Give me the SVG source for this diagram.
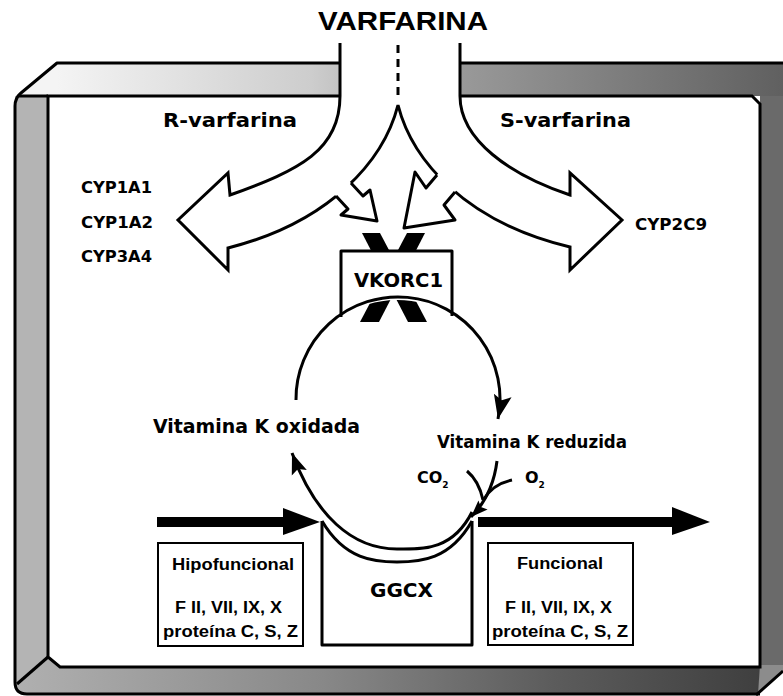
<svg xmlns="http://www.w3.org/2000/svg" width="783" height="696" viewBox="0 0 783 696">
<style>
.ln{fill:none;stroke:#000;stroke-width:3;stroke-linejoin:round}
.wf{fill:#fff;stroke:#000;stroke-width:3;stroke-linejoin:miter}
.lb{font-family:"DejaVu Sans","Liberation Sans",sans-serif;font-weight:bold;fill:#000}
.bx{font-family:"Liberation Sans","DejaVu Sans",sans-serif;font-weight:bold;fill:#000}
</style>
<defs>
<linearGradient id="gTop" gradientUnits="userSpaceOnUse" x1="57" y1="0" x2="783" y2="0">
<stop offset="0" stop-color="#f4f4f4"/><stop offset="0.35" stop-color="#cdcdcd"/><stop offset="0.55" stop-color="#9a9a9a"/><stop offset="0.8" stop-color="#7a7a7a"/><stop offset="1" stop-color="#606060"/>
</linearGradient>
<linearGradient id="gBot" gradientUnits="userSpaceOnUse" x1="15" y1="0" x2="783" y2="0">
<stop offset="0" stop-color="#b0b0b0"/><stop offset="0.4" stop-color="#888"/><stop offset="0.7" stop-color="#5c5c5c"/><stop offset="1" stop-color="#3c3c3c"/>
</linearGradient>
<marker id="ahL" markerUnits="userSpaceOnUse" markerWidth="26" markerHeight="20" viewBox="0 0 26 20" refX="24" refY="10" orient="auto"><path d="M0,1 L24,10 L0,19 L5,10 Z" fill="#000"/></marker>
<marker id="ahM" markerUnits="userSpaceOnUse" markerWidth="22" markerHeight="18" viewBox="0 0 22 18" refX="21" refY="9" orient="auto"><path d="M0,1 L21,9 L0,17 L4,9 Z" fill="#000"/></marker>
<marker id="ahS" markerUnits="userSpaceOnUse" markerWidth="18" markerHeight="14" viewBox="0 0 18 14" refX="17" refY="7" orient="auto"><path d="M0,0.5 L17,7 L0,13.5 L3,7 Z" fill="#000"/></marker>
</defs>

<g id="frame">
<polygon points="17,96 57,63 783,63 783,96" fill="url(#gTop)"/>
<polygon points="15,96 48,96 48,657 17,684 15,684" fill="#b4b4b4"/>
<path d="M15,684 L48,657 L60,667 H760 V694 H27 Q15,694 15,684 Z" fill="url(#gBot)"/>
<rect x="760" y="96" width="23" height="571" fill="#6a6a6a"/>
<polygon points="760,665 783,665 783,671 758,694" fill="#8c8c8c"/>
<path d="M48,96 H752 L760,104 V667 H60 L48,657 Z" class="wf"/>
<path d="M760,694 H27 Q15,694 15,682 V106 Q15,98 21,93 L57,63 H783" class="ln"/>
<path d="M19,96 H48" class="ln"/>
<path d="M17,684 L48,657" class="ln"/>
<path d="M756,695 L783,671" class="ln"/>
</g>

<g id="varfarina">
<path d="M340,43 V96 C340,150 300,170 230,195 L228,173 L178,220 L228,270 L228,248 C331,222 384,160 398,105 C412,160 465,222 570,247 L570,270 L622,220 L570,173 L570,195 C510,175 460,140 460,96 V43" class="wf"/>
<path d="M398,45 V99" fill="none" stroke="#000" stroke-width="3" stroke-dasharray="8,6"/>
<text x="318" y="30" class="bx" font-size="26" textLength="170" lengthAdjust="spacingAndGlyphs">VARFARINA</text>
<text x="163" y="127" class="lb" font-size="20" textLength="134" lengthAdjust="spacingAndGlyphs">R-varfarina</text>
<text x="500" y="127" class="lb" font-size="20" textLength="131" lengthAdjust="spacingAndGlyphs">S-varfarina</text>
</g>

<g id="arrow-r-vkorc1">
<polygon points="347,179 351,183 363,196 370,190 377,221 341,215 348,209 336,196 332,192" fill="#fff"/>
<path d="M351,183 L363,196 L370,190 L377,221 L341,215 L348,209 L336,196" class="ln"/>
</g>
<g id="arrow-s-vkorc1">
<polygon points="441,170 437,175 426,188 415,172 404,228 455,220 444,205 455,192 459,187" fill="#fff"/>
<path d="M437,175 L426,188 L415,172 L404,228 L455,220 L444,205 L455,192" class="ln"/>
</g>

<g id="cyp-r">
<text x="81" y="193" class="lb" font-size="15" textLength="71" lengthAdjust="spacingAndGlyphs">CYP1A1</text>
<text x="81" y="228" class="lb" font-size="15" textLength="72" lengthAdjust="spacingAndGlyphs">CYP1A2</text>
<text x="81" y="262" class="lb" font-size="15" textLength="71" lengthAdjust="spacingAndGlyphs">CYP3A4</text>
</g>
<g id="cyp-s">
<text x="635" y="230" class="lb" font-size="15" textLength="72" lengthAdjust="spacingAndGlyphs">CYP2C9</text>
</g>

<g id="vkorc1">
<polygon points="362,233 380,233 427,322 408,322" fill="#000"/>
<polygon points="407,233 425,233 379,322 360,322" fill="#000"/>
<path d="M341,317 V251 H452 V316 A102,102 0 0 0 341,317 Z" fill="#fff"/>
<path d="M341,317 V251 H452 V316" class="ln" stroke-linejoin="miter"/>
<text x="354" y="287" class="lb" font-size="19" textLength="89" lengthAdjust="spacingAndGlyphs">VKORC1</text>
</g>

<g id="connectors">
<path d="M296,400 A102,102 0 1 1 498,419" class="ln" marker-end="url(#ahL)"/>
<path d="M472,512 C452,552 420,549 397,549 C352,549 315,515 292,453" class="ln" marker-end="url(#ahM)"/>
<path d="M497,461 C494,485 486,502 471,517" class="ln" marker-end="url(#ahS)"/>
<path d="M467,471 Q479,481 483,500" class="ln"/>
<path d="M512,480 Q493,484 484,499" class="ln"/>
<path d="M157,522 H290" fill="none" stroke="#000" stroke-width="10"/>
<polygon points="283,508 320,522 283,535" fill="#000"/>
<path d="M478,522 H680" fill="none" stroke="#000" stroke-width="10"/>
<polygon points="672,507 710,522 672,535" fill="#000"/>
</g>

<g id="ggcx">
<path d="M322,521 V645 H472 V521" class="ln" stroke-linejoin="miter"/>
<path d="M322,521 C345,560 375,562 397,562 C420,562 450,560 472,521" class="ln"/>
<text x="370" y="597" class="lb" font-size="19" textLength="63" lengthAdjust="spacingAndGlyphs">GGCX</text>
</g>

<g id="vitk">
<text x="153" y="433" class="lb" font-size="19" textLength="207" lengthAdjust="spacingAndGlyphs">Vitamina K oxidada</text>
<text x="437" y="448" class="lb" font-size="18" textLength="190" lengthAdjust="spacingAndGlyphs">Vitamina K reduzida</text>
<text x="417" y="483" class="lb" font-size="16">CO<tspan font-size="9" dy="5">2</tspan></text>
<text x="525" y="483" class="lb" font-size="16">O<tspan font-size="9" dy="5">2</tspan></text>
</g>

<g id="hipofuncional">
<rect x="158" y="543" width="145" height="103" fill="#fff" stroke="#000" stroke-width="2"/>
<text x="172" y="570" class="bx" font-size="16" textLength="122" lengthAdjust="spacingAndGlyphs">Hipofuncional</text>
<text x="175" y="613" class="bx" font-size="16" textLength="107" lengthAdjust="spacingAndGlyphs">F II, VII, IX, X</text>
<text x="163" y="637" class="bx" font-size="16" textLength="135" lengthAdjust="spacingAndGlyphs">proteína C, S, Z</text>
</g>
<g id="funcional">
<rect x="488" y="543" width="145" height="102" fill="#fff" stroke="#000" stroke-width="2"/>
<text x="517" y="569" class="bx" font-size="16" textLength="86" lengthAdjust="spacingAndGlyphs">Funcional</text>
<text x="505" y="613" class="bx" font-size="16" textLength="107" lengthAdjust="spacingAndGlyphs">F II, VII, IX, X</text>
<text x="492" y="637" class="bx" font-size="16" textLength="136" lengthAdjust="spacingAndGlyphs">proteína C, S, Z</text>
</g>
</svg>
